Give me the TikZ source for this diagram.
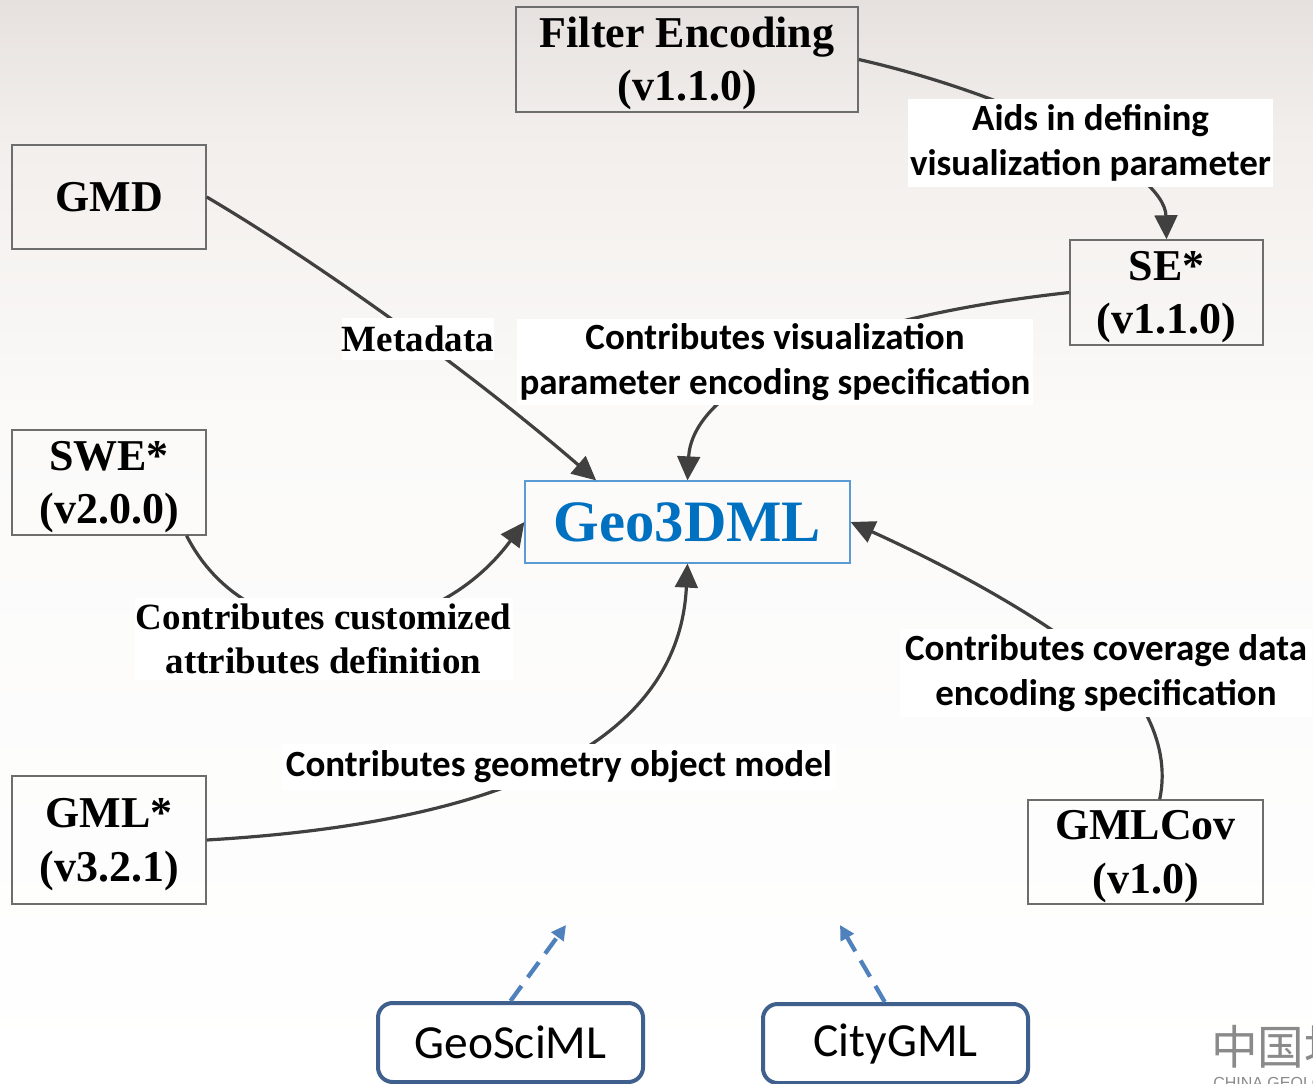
\documentclass[tikz,border=0pt]{standalone}
\usepackage{fontspec}
\setmainfont{Liberation Serif}
\setsansfont{Liberation Sans}
\newfontfamily\calfont{Carlito}
\newfontfamily\cjkfont{Noto Sans CJK SC}
\usetikzlibrary{arrows.meta,calc}
\definecolor{boxgray}{HTML}{6D6D6D}
\definecolor{conncol}{HTML}{404040}
\definecolor{geoblue}{HTML}{0070C0}
\definecolor{geoframe}{HTML}{5B9BD5}
\definecolor{dashblue}{HTML}{4F81BD}
\definecolor{roundframe}{HTML}{3F5F8C}
\definecolor{logogray}{HTML}{8A8A8A}
\definecolor{bgtop}{HTML}{E6E1DE}
\definecolor{bgup}{HTML}{F2EEEB}
\definecolor{bgmid}{HTML}{FBFAF9}
\pgfdeclareverticalshading{bgshade}{100bp}{color(0bp)=(white); color(25bp)=(white); color(56bp)=(bgmid); color(69bp)=(bgup); color(75bp)=(bgtop); color(100bp)=(bgtop)}
\newcommand{\boxlift}{\rule{0pt}{29pt}}
\begin{document}
\begin{tikzpicture}[x=0.75pt,y=-0.75pt,
  box/.style={draw=boxgray, line width=1.1pt, align=center, inner sep=0pt,
    font=\bfseries\fontsize{33}{40}\selectfont},
  lab/.style={fill=white, inner sep=0pt, align=center,
    font=\calfont\bfseries\fontsize{27.75}{33.5}\selectfont},
  tlab/.style={fill=white, inner sep=0pt, align=center,
    font=\bfseries\fontsize{27.75}{33.5}\selectfont},
  conn/.style={draw=conncol, line width=2.4pt, -{Triangle[length=18pt,width=17pt]}},
  dconn/.style={draw=dashblue, line width=3.2pt, dash pattern=on 14pt off 8pt,
    -{Triangle[length=11pt,width=11pt]}},
  rbox/.style={draw=roundframe, line width=3pt, rounded corners=11pt, fill=white,
    inner sep=0pt, font=\calfont\fontsize{35.6}{40}\selectfont,
    minimum width=198.75pt, minimum height=59.25pt}
]
\useasboundingbox (0,0) rectangle (1313,1084);
\clip (0,0) rectangle (1313,1084);
\shade[shading=bgshade] (0,0) rectangle (1313,1084);

% boxes
\node[box, minimum width=256.5pt, minimum height=78.75pt] (fe) at (687,59.5) {\boxlift Filter Encoding\\(v1.1.0)};
\node[box, minimum width=145.5pt, minimum height=78pt] (gmd) at (109,197) {GMD};
\node[box, minimum width=144.75pt, minimum height=78.75pt] (se) at (1166.5,292.5) {\boxlift SE*\\(v1.1.0)};
\node[box, minimum width=145.5pt, minimum height=78.75pt] (swe) at (109,482.5) {\boxlift SWE*\\(v2.0.0)};
\node[draw=geoframe, line width=0.9pt, inner sep=0pt, minimum width=243.75pt, minimum height=61.5pt,
  text=geoblue, font=\bfseries\fontsize{44}{48}\selectfont] (geo) at (687.5,522) {Geo3DML};
\node[box, minimum width=145.5pt, minimum height=96pt] (gml) at (109,840) {\boxlift GML*\\(v3.2.1)};
\node[box, minimum width=176.25pt, minimum height=78pt] (cov) at (1145.5,852) {\boxlift GMLCov\\(v1.0)};
\node[rbox] (gsm) at (510.5,1042.5) {GeoSciML};
\node[rbox] (city) at (895.5,1043.5) {CityGML};

% connectors
\draw[conn] (fe.east) .. controls (1015,95) and (1165,170) .. (se.north);
\draw[conn] (gmd.east) .. controls (330,270) and (480,380) .. ($(geo.north west)!0.22!(geo.north east)$);
\draw[conn] (se.west) .. controls (820,320) and (692,390) .. (geo.north);
\draw[conn] ($(swe.south west)!0.897!(swe.south east)$) .. controls (250,660) and (428,652) .. (geo.west);
\draw[conn] (gml.east) .. controls (550,820) and (680,720) .. (geo.south);
\draw[conn] ($(cov.north west)!0.56!(cov.north east)$) .. controls (1166,770) and (1160,740) .. (1145,712)
  .. controls (1110,660) and (1000,590) .. (geo.east);

\coordinate (gsmtip) at (566,925);
\coordinate (citytip) at (840,925);
\draw[dconn] (gsm.north) -- (gsmtip);
\draw[dconn] ($(city.north west)!0.46!(city.north east)$) -- (citytip);

% labels
\node[lab, minimum width=273.75pt, minimum height=66pt] (laids) at (1090.5,143) {Aids in defining\\visualization parameter};
\node[tlab, minimum width=112.5pt, minimum height=31.5pt] (lmeta) at (418,339) {Metadata};
\node[lab, minimum width=387pt, minimum height=64.5pt] (lvis) at (775,362) {Contributes visualization\\parameter encoding specification};
\node[tlab, minimum width=283.5pt, minimum height=61.5pt] (lcust) at (323.5,639) {Contributes customized\\attributes definition};
\node[lab, minimum width=416pt, minimum height=34.5pt] (lgeom) at (559,767) {Contributes geometry object model};
\node[lab, minimum width=309pt, minimum height=66pt] (lcov) at (1106,673) {Contributes coverage data\\encoding specification};

% logo
\node[anchor=west, inner sep=0pt, text=logogray, font=\cjkfont\fontsize{35}{35}\selectfont] (logo) at (1211,1047) {中国地质调查局};
\node[anchor=north west, inner sep=0pt, text=logogray, font=\sffamily\fontsize{12}{12}\selectfont] (logoen) at (1213,1077) {CHINA GEOLOGICAL SURVEY};
\end{tikzpicture}
\end{document}
